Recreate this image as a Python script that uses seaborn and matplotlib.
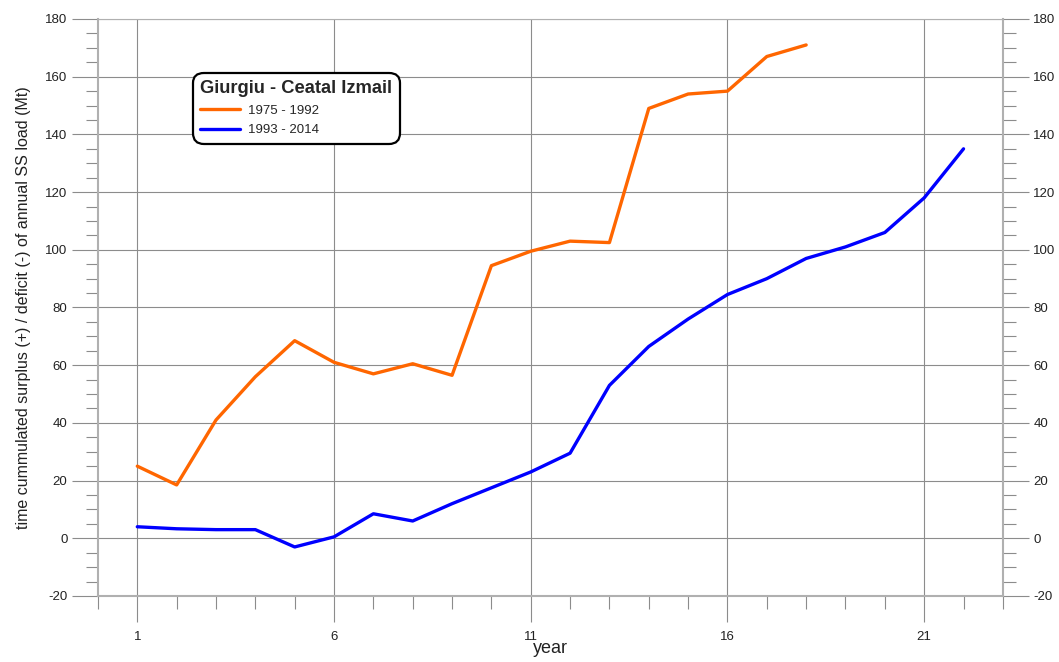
import numpy as np
import pandas as pd
import matplotlib
matplotlib.use("Agg")
import matplotlib.pyplot as plt
import seaborn as sns
from matplotlib.ticker import MultipleLocator

# Cumulated surplus/deficit of annual suspended-sediment load (Mt)
years_1975_1992 = list(range(1, 19))
load_1975_1992 = [25, 18.5, 41, 56, 68.5, 61, 57, 60.5, 56.5, 94.5,
                  99.5, 103, 102.5, 149, 154, 155, 167, 171]

years_1993_2014 = list(range(1, 23))
load_1993_2014 = [4, 3.3, 3, 3, -3, 0.5, 8.5, 6, 12, 17.5, 23,
                  29.5, 53, 66.5, 76, 84.5, 90, 97, 101, 106, 118, 135]

series_names = ["1975 - 1992", "1993 - 2014"]
series_colors = ["#FF6600", "#0000FF"]
legend_title = "Giurgiu - Ceatal Izmail"
x_ticks = [1, 6, 11, 16, 21]

df = pd.concat([
    pd.DataFrame({"year": years_1975_1992, "load": load_1975_1992, "period": series_names[0]}),
    pd.DataFrame({"year": years_1993_2014, "load": load_1993_2014, "period": series_names[1]}),
])

sns.set_style("white")
plt.rcParams["font.family"] = ["Liberation Sans", "DejaVu Sans"]
plt.rcParams["axes.unicode_minus"] = False

fig = plt.figure(figsize=(10.59, 6.62), dpi=100)
ax = fig.add_axes([0.0925, 0.0997, 0.8545, 0.8716])

sns.lineplot(data=df, x="year", y="load", hue="period",
             palette=dict(zip(series_names, series_colors)),
             linewidth=2.4, ax=ax, legend=False, zorder=3)

ax.set_xlim(0, 23)
ax.set_ylim(-20, 180)
ax.xaxis.set_minor_locator(MultipleLocator(1))
ax.set_xticks(x_ticks)
ax.yaxis.set_major_locator(MultipleLocator(20))
ax.yaxis.set_minor_locator(MultipleLocator(5))

ax.grid(True, which="major", color="#8c8c8c", linewidth=0.8, zorder=1)

for side in ["left", "right", "bottom", "top"]:
    ax.spines[side].set_color("#b0b0b0")
    ax.spines[side].set_linewidth(1.5)
ax.spines["top"].set_linewidth(0.8)

ax.tick_params(axis="both", which="both", bottom=True, left=True, right=True,
               top=False, direction="out", width=0.8, color="#8c8c8c")
ax.tick_params(axis="both", which="major", length=19,
               labelsize=9.5, labelcolor="#222222")
ax.tick_params(axis="both", which="minor", length=9)
ax.tick_params(axis="x", which="major", pad=6)
ax.tick_params(axis="y", which="both", labelright=True)
ax.tick_params(axis="y", which="major", pad=3)

ax.set_xlabel("year", fontsize=13, color="#222222", labelpad=-2)
ax.set_ylabel("time cummulated surplus (+) / deficit (-) of annual SS load (Mt)",
              fontsize=11.5, color="#222222", labelpad=10)

handles = [plt.Line2D([], [], color=c, linewidth=2.4) for c in series_colors]
leg = ax.legend(handles, series_names, title=legend_title,
                loc="upper left", bbox_to_anchor=(0.098, 0.918),
                frameon=True, fancybox=True, fontsize=9.5,
                title_fontproperties={"weight": "bold", "size": 13.2},
                handlelength=3.0, handletextpad=0.6, borderpad=0.55,
                labelspacing=0.55, alignment="left")
frame = leg.get_frame()
frame.set_edgecolor("black")
frame.set_linewidth(1.6)
frame.set_facecolor("white")
frame.set_alpha(1)
frame.set_boxstyle("round,pad=0.02,rounding_size=0.8")
leg.set_zorder(5)

fig.savefig("out.png", dpi=100)
